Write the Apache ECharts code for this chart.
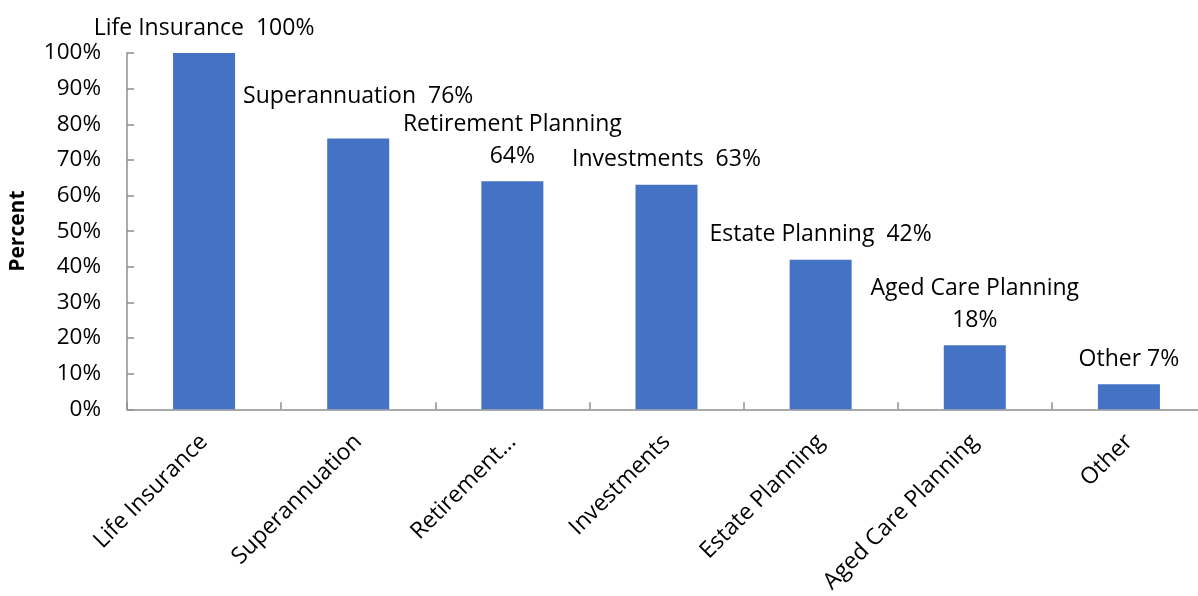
<!DOCTYPE html>
<html>
<head>
<meta charset="utf-8">
<script src="https://cdn.jsdelivr.net/npm/echarts@6/dist/echarts.min.js"></script>
<style>
  html, body { margin: 0; padding: 0; background: #ffffff; overflow: hidden; }
  /* plot area runs a few pixels past the right edge of the window */
  #chart { width: 1206px; height: 596px; }
</style>
</head>
<body>
<div id="chart"></div>
<script>
// Services covered (percent of respondents)
const categories = ['Life Insurance', 'Superannuation', 'Retirement Planning', 'Investments', 'Estate Planning', 'Aged Care Planning', 'Other'];
const values = [100, 76, 64, 63, 42, 18, 7];
// Text shown under each bar on the category axis
const axisLabels = ['Life Insurance', 'Superannuation', 'Retirement…', 'Investments', 'Estate Planning', 'Aged Care Planning', 'Other'];
// Separator between name and value inside each bar label
const labelSeparators = ['  ', '  ', '\n', '  ', '  ', '\n', ' '];
const yTicks = [0, 10, 20, 30, 40, 50, 60, 70, 80, 90, 100];

const FONT = '"Open Sans", "Noto Sans", sans-serif';
const AXIS_COLOR = '#8f8f8f';

const chart = echarts.init(document.getElementById('chart'), null, { renderer: 'canvas' });

const seriesData = values.map((v, i) => {
  const item = { value: v };
  if (i === 1) item.label = { distance: 26 };
  return item;
});

chart.setOption({
  animation: false,
  backgroundColor: '#ffffff',
  grid: { left: 126.5, top: 53, bottom: 185, right: 0, containLabel: false },
  xAxis: {
    type: 'category',
    data: categories,
    axisLine: { lineStyle: { color: AXIS_COLOR, width: 1.5 } },
    axisTick: { show: true, inside: true, length: 7, alignWithLabel: false, lineStyle: { color: AXIS_COLOR, width: 1.5 } },
    axisLabel: {
      rotate: 45,
      margin: 29,
      interval: 0,
      fontFamily: FONT,
      fontSize: 23,
      color: '#000000',
      formatter: (val, idx) => axisLabels[idx]
    },
    splitLine: { show: false }
  },
  yAxis: {
    type: 'value',
    min: yTicks[0],
    max: yTicks[yTicks.length - 1],
    interval: 10,
    name: 'Percent',
    nameLocation: 'middle',
    nameRotate: 90,
    nameGap: 98,
    nameTextStyle: { fontFamily: FONT, fontSize: 21, fontWeight: 'bold', color: '#000000' },
    axisLine: { show: true, lineStyle: { color: AXIS_COLOR, width: 1.5 } },
    axisTick: { show: true, inside: true, length: 7, lineStyle: { color: AXIS_COLOR, width: 1.5 } },
    axisLabel: {
      margin: 26,
      fontFamily: FONT,
      fontSize: 22.5,
      color: '#000000',
      formatter: '{value}%'
    },
    splitLine: { show: false }
  },
  series: [{
    type: 'bar',
    data: seriesData,
    barWidth: 62,
    itemStyle: { color: '#4472C4' },
    label: {
      show: true,
      position: 'top',
      distance: 9,
      fontFamily: FONT,
      fontSize: 23,
      lineHeight: 32,
      color: '#000000',
      align: 'center',
      formatter: (p) => categories[p.dataIndex] + labelSeparators[p.dataIndex] + p.value + '%'
    }
  }]
});
</script>
</body>
</html>
